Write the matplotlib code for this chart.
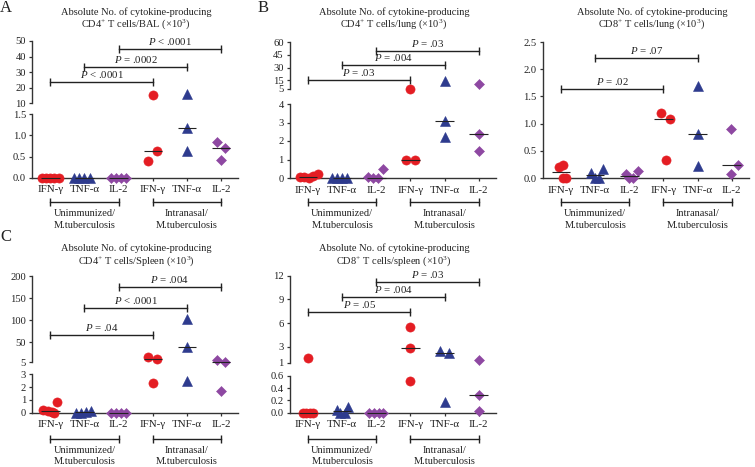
import numpy as np
import matplotlib
matplotlib.use('Agg')
import matplotlib.pyplot as plt
from matplotlib.transforms import blended_transform_factory

plt.rcParams['font.family'] = ['Liberation Serif', 'DejaVu Serif']
plt.rcParams['mathtext.fontset'] = 'custom'
plt.rcParams['mathtext.rm'] = 'Liberation Serif'
plt.rcParams['mathtext.it'] = 'Liberation Serif:italic'
plt.rcParams['font.size'] = 7.5
plt.rcParams['text.color'] = '#222222'
plt.rcParams['xtick.labelsize'] = 7.9
plt.rcParams['ytick.labelsize'] = 7.6

W, H = 755, 467

cats = ['IFN-γ', 'TNF-α', 'IL-2', 'IFN-γ', 'TNF-α', 'IL-2']
group_labels = ['Unimmunized/\nM.tuberculosis', 'Intranasal/\nM.tuberculosis']

# values, order: unimmunized IFN, TNF, IL-2, intranasal IFN, TNF, IL-2  (x10^3)
bal_cd4 = [[0, 0, 0, 0, 0], [0, 0, 0, 0], [0, 0, 0, 0],
           [15.2, 0.64, 0.39], [16.2, 1.18, 0.64], [0.84, 0.71, 0.43]]
bal_cd4_dx = [[-0.25, -0.12, 0, 0.12, 0.25], [-0.3, -0.15, 0, 0.15], [-0.22, -0.07, 0.07, 0.22],
              [0, 0.14, -0.13], [0, 0, 0], [-0.13, 0.13, 0]]

lung_cd4 = [[0.05, 0.03, 0.0, 0.12, 0.2], [0, 0, 0, 0], [0.05, 0, 0, 0.47],
            [5.2, 0.97, 0.97], [13.9, 3.1, 2.23], [10.5, 2.38, 1.47]]
lung_cd4_dx = [[-0.25, -0.12, 0.02, 0.15, 0.28], [-0.3, -0.15, 0, 0.15], [-0.25, -0.1, 0.05, 0.2],
               [0, -0.13, 0.13], [0, 0, 0], [0, 0, 0]]

lung_cd8 = [[0.21, 0.24, 0, 0], [0.1, 0, 0, 0.16], [0.07, 0, 0, 0.13],
            [1.19, 1.09, 0.34], [1.7, 0.81, 0.22], [0.9, 0.24, 0.08]]
lung_cd8_dx = [[-0.05, 0.05, 0.05, 0.15], [-0.12, 0, 0.1, 0.24], [-0.1, 0, 0.12, 0.26],
               [-0.07, 0.2, 0.08], [0, 0, 0], [-0.02, 0.2, -0.02]]

spleen_cd4 = [[0.2, 0.1, 0.03, 0, 0.86], [0, 0, 0.05, 0.12], [0, 0, 0, 0],
              [16, 11, 2.3], [102, 40, 2.5], [9, 5, 1.7]]
spleen_cd4_dx = [[-0.21, -0.06, 0.04, 0.1, 0.18], [-0.25, -0.1, 0.05, 0.2], [-0.22, -0.07, 0.07, 0.22],
                 [-0.13, 0.13, 0], [0, 0, 0], [-0.13, 0.13, 0]]

spleen_cd8 = [[1.56, 0, 0, 0, 0], [0.04, 0, 0, 0.1], [0, 0, 0, 0],
              [5.5, 2.8, 0.52], [2.5, 2.2, 0.17], [1.34, 0.29, 0.02]]
spleen_cd8_dx = [[0, -0.15, -0.05, 0.05, 0.15], [-0.15, -0.05, 0.08, 0.17], [-0.2, -0.07, 0.07, 0.2],
                 [0, 0, 0], [-0.12, 0.12, 0], [0, 0, 0]]

# significance brackets: (from, to, height, label)
bal_cd4_p = [(0, 3, 23.8, '$P$ < .0001'), (1, 4, 33.5, '$P$ = .0002'), (2, 5, 45, '$P$ < .0001')]
lung_cd4_p = [(0, 3, 16, '$P$ = .03'), (1, 4, 32.5, '$P$ = .004'), (2, 5, 49, '$P$ = .03')]
lung_cd8_p = [(0, 3, 1.63, '$P$ = .02'), (1, 4, 2.2, '$P$ = .07')]
spleen_cd4_p = [(0, 3, 66, '$P$ = .04'), (1, 4, 128, '$P$ < .0001'), (2, 5, 174, '$P$ = .004')]
spleen_cd8_p = [(0, 3, 7.4, '$P$ = .05'), (1, 4, 9.35, '$P$ = .004'), (2, 5, 11.25, '$P$ = .03')]

colors = ['#e41d23', '#2e3b8e', '#8e48a2'] * 2
markers = ['o', '^', 'D'] * 2
msizes = [6.6, 6.9, 5.2] * 2
axcol = '#333333'

fig = plt.figure(figsize=(W / 100, H / 100), dpi=100)


def add_ax(x0, x1, y0, y1):
    return fig.add_axes([x0 / W, 1 - y1 / H, (x1 - x0) / W, (y1 - y0) / H])


def style(ax, bottom):
    for s in ['top', 'right']:
        ax.spines[s].set_visible(False)
    ax.spines['left'].set_color(axcol)
    ax.spines['left'].set_linewidth(1.0)
    ax.tick_params(axis='y', length=2.5, width=0.9, color=axcol, pad=2, labelcolor='#222222')
    ax.set_xlim(-0.53, 5.5)
    if bottom:
        ax.spines['bottom'].set_color(axcol)
        ax.spines['bottom'].set_linewidth(1.0)
        ax.set_xticks(range(6))
        ax.set_xticklabels(cats)
        ax.tick_params(axis='x', length=2.5, width=0.9, color=axcol, pad=3, labelcolor='#222222')
    else:
        ax.spines['bottom'].set_visible(False)
        ax.set_xticks([])
    ax.patch.set_alpha(0)


def panel(xpx, low_px, low_lim, low_ticks, low_fmt, vals, dx, pbars, title, tcx, row,
          top_px=None, top_lim=None, top_ticks=None):
    low = add_ax(xpx[0], xpx[1], low_px[0], low_px[1])
    style(low, True)
    low.set_ylim(*low_lim)
    low.set_yticks(low_ticks)
    low.set_yticklabels([low_fmt.format(t) for t in low_ticks])
    top = None
    if top_px is not None:
        top = add_ax(xpx[0], xpx[1], top_px[0], top_px[1])
        style(top, False)
        top.set_ylim(*top_lim)
        top.set_yticks(top_ticks)
        top.set_yticklabels([str(t) for t in top_ticks])

    def pick(v):
        if top is not None and v > low_lim[1]:
            return top
        return low

    for i in range(6):
        for v, d in zip(vals[i], dx[i]):
            pick(v).plot(i + d, v, marker=markers[i], color=colors[i], ms=msizes[i],
                         mec=colors[i], mew=0.4, ls='none', clip_on=False, zorder=3)
        m = np.median(vals[i])
        pick(m).plot([i - 0.27, i + 0.27], [m, m], color='#222222', lw=0.8,
                     clip_on=False, zorder=4, solid_capstyle='butt')

    sig_ax = top if top is not None else low
    for i0, i1, y, lab in pbars:
        sig_ax.plot([i0, i1], [y, y], color='#222222', lw=1.0, marker='|', ms=6, mew=1.0,
                    clip_on=False, zorder=2)
        sig_ax.annotate(lab, xy=((i0 + i1) / 2, y), xytext=(0, 1.5), textcoords='offset points',
                        ha='center', va='bottom', fontsize=7.8)

    # group brackets under x labels
    ybr, yl1, yl2 = (202, 213.5, 225.5) if row == 0 else (439, 450.5, 462)
    tr = blended_transform_factory(low.transData, fig.transFigure)
    for g, (a, b) in enumerate([(0, 2), (3, 5)]):
        low.plot([a, b], [1 - ybr / H] * 2, transform=tr, color='#222222', lw=1.0,
                 marker='|', ms=6, mew=1.0, clip_on=False)
        l1, l2 = group_labels[g].split('\n')
        low.text((a + b) / 2, 1 - yl1 / H, l1, transform=tr, ha='center', va='center')
        low.text((a + b) / 2, 1 - yl2 / H, l2, transform=tr, ha='center', va='center')

    y1, y2 = (12.5, 24.5) if row == 0 else (248.5, 261.5)
    fig.text(tcx / W, 1 - y1 / H, title[0], ha='center', va='center')
    fig.text(tcx / W, 1 - y2 / H, title[1], ha='center', va='center')


panel((32.3, 238), (114.3, 177.7), (0, 1.5), [0.0, 0.5, 1.0, 1.5], '{:.1f}',
      bal_cd4, bal_cd4_dx, bal_cd4_p,
      ('Absolute No. of cytokine-producing', 'CD4$^{+}$ T cells/BAL (×10$^{3}$)'), 136, 0,
      top_px=(41, 103.3), top_lim=(10, 50), top_ticks=[10, 20, 30, 40, 50])

panel((290, 495.7), (104, 178), (0, 4), [0, 1, 2, 3, 4], '{:d}',
      lung_cd4, lung_cd4_dx, lung_cd4_p,
      ('Absolute No. of cytokine-producing', 'CD4$^{+}$ T cells/lung (×10$^{3}$)'), 394, 0,
      top_px=(42, 89), top_lim=(5, 60), top_ticks=[5, 15, 30, 45, 60])

panel((543, 748.7), (42, 178), (0, 2.5), [0.0, 0.5, 1.0, 1.5, 2.0, 2.5], '{:.1f}',
      lung_cd8, lung_cd8_dx, lung_cd8_p,
      ('Absolute No. of cytokine-producing', 'CD8$^{+}$ T cells/lung (×10$^{3}$)'), 652, 0)

panel((32.3, 238), (374.3, 412.7), (0, 3), [0, 1, 2, 3], '{:d}',
      spleen_cd4, spleen_cd4_dx, spleen_cd4_p,
      ('Absolute No. of cytokine-producing', 'CD4$^{+}$ T cells/Spleen (×10$^{3}$)'), 136, 1,
      top_px=(276, 362), top_lim=(5, 200), top_ticks=[5, 50, 100, 150, 200])

panel((290, 495.7), (375.7, 412.7), (0, 0.6), [0.0, 0.2, 0.4, 0.6], '{:.1f}',
      spleen_cd8, spleen_cd8_dx, spleen_cd8_p,
      ('Absolute No. of cytokine-producing', 'CD8$^{+}$ T cells/spleen (×10$^{3}$)'), 394, 1,
      top_px=(275.7, 362.7), top_lim=(1, 12), top_ticks=[1, 3, 6, 9, 12])

for letter, x, y in [('A', 0, 0), ('B', 258, 0), ('C', 0, 229)]:
    fig.text(x / W, 1 - y / H, letter, ha='left', va='top', fontsize=12)

fig.savefig('out.png', dpi=100)
